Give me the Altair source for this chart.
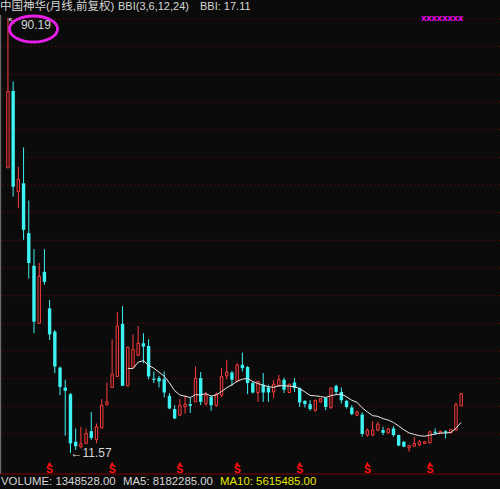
import altair as alt
import pandas as pd

# Monthly candles, China Shenhua (forward-adjusted), oldest first
opens = [63.1, 77.0, 58.8, 60.3, 51.3, 45.4, 35.0, 44.3, 37.7, 33.5,
         27.0, 23.4, 22.2, 13.6, 12.7, 13.3, 15.5, 14.0, 16.1, 20.3,
         23.4, 25.4, 34.9, 23.7, 27.1, 29.2, 31.4, 30.9, 25.0, 25.1,
         24.9, 21.9, 19.5, 18.4, 19.9, 20.4, 20.8, 25.1, 20.5, 21.7,
         20.2, 22.0, 25.5, 26.1, 24.5, 27.5, 27.1, 24.2, 22.5, 23.9,
         23.4, 22.6, 23.7, 24.8, 22.5, 24.3, 23.3, 21.0, 20.4, 19.3,
         20.8, 21.5, 19.8, 23.7, 22.6, 21.0, 19.8, 18.4, 18.5, 14.8,
         14.8, 15.7, 15.7, 15.2, 16.0, 14.8, 13.6, 12.5, 12.8, 13.0,
         13.3, 13.4, 15.4, 15.1, 15.5, 15.2, 15.7, 20.1]
highs = [90.19, 78.7, 63.3, 66.8, 57.2, 48.4, 45.9, 48.4, 39.2, 33.8,
         27.2, 24.8, 22.4, 16.0, 16.3, 16.0, 19.0, 16.9, 21.3, 24.3,
         32.1, 37.0, 38.1, 30.8, 33.0, 34.5, 33.2, 32.1, 26.3, 25.5,
         26.3, 22.4, 20.2, 21.3, 22.0, 21.5, 27.2, 26.2, 22.6, 22.0,
         22.5, 26.9, 28.4, 26.4, 27.8, 29.7, 27.3, 24.5, 24.6, 26.0,
         23.9, 24.8, 25.7, 25.2, 24.1, 25.1, 23.4, 21.1, 21.1, 21.2,
         21.5, 21.7, 23.4, 23.9, 23.4, 21.1, 20.2, 19.2, 18.9, 16.0,
         17.3, 17.2, 16.3, 16.1, 16.4, 14.9, 13.7, 12.9, 14.5, 13.9,
         13.7, 15.6, 16.0, 15.6, 15.7, 15.9, 20.7, 22.4]
lows = [63.1, 57.9, 55.8, 50.1, 43.1, 33.2, 35.0, 42.0, 32.0, 26.0,
        22.0, 14.7, 11.57, 12.1, 12.4, 13.2, 13.9, 13.3, 16.0, 20.2,
        23.3, 25.3, 23.7, 23.6, 27.0, 29.1, 27.8, 24.9, 24.2, 23.4,
        21.6, 19.5, 17.7, 18.3, 18.7, 18.8, 20.8, 20.2, 20.1, 19.2,
        19.9, 21.7, 24.9, 23.7, 24.4, 26.3, 22.2, 22.3, 20.8, 20.8,
        20.8, 21.5, 23.6, 22.4, 22.4, 22.6, 19.9, 19.8, 19.2, 19.0,
        20.7, 19.3, 19.5, 22.2, 20.5, 19.6, 18.4, 18.2, 14.5, 14.5,
        14.6, 15.5, 14.8, 15.1, 14.5, 12.8, 12.6, 11.8, 12.8, 12.8,
        13.3, 13.3, 14.8, 15.1, 14.2, 15.2, 15.7, 20.1]
closes = [76.9, 59.7, 61.0, 51.9, 45.9, 35.3, 43.5, 42.5, 33.0, 27.2,
          23.5, 22.8, 13.3, 12.8, 13.2, 15.1, 14.3, 16.3, 20.2, 20.8,
          25.8, 34.5, 23.7, 30.7, 30.3, 31.4, 30.8, 25.4, 24.8, 24.5,
          22.5, 19.6, 17.8, 20.2, 20.4, 20.1, 25.1, 20.8, 22.0, 20.2,
          22.2, 25.4, 26.2, 24.8, 27.5, 26.9, 24.2, 22.5, 24.5, 22.5,
          22.5, 24.0, 24.8, 23.0, 24.0, 23.3, 20.7, 20.4, 19.5, 21.1,
          21.4, 19.9, 23.3, 22.6, 21.1, 19.9, 18.6, 19.0, 15.0, 15.7,
          15.7, 16.8, 15.2, 15.9, 14.8, 12.9, 12.7, 12.9, 13.3, 13.6,
          13.6, 15.4, 15.2, 15.5, 15.2, 15.8, 20.3, 22.3]

# Horizontal guide levels and months carrying a dividend marker
grid_levels = [15, 20, 25, 30, 35, 40, 45, 50, 55, 60, 65, 70, 75, 80, 85, 90]
dividend_months = [8, 20, 33, 44, 56, 69, 81]

title_text = "中国神华(月线,前复权)"
bbi_params = "BBI(3,6,12,24)"
volume_text = "VOLUME: 1348528.00"
ma5_text = "MA5: 8182285.00"
ma10_text = "MA10: 5615485.00"

BG = "#0b0b0b"
UP = "#ff3c3c"
DOWN = "#3cf2f2"
GRID = "#7a0808"
TXT = "#d6d6d6"
LATIN = "Liberation Sans, Noto Sans CJK SC"

df = pd.DataFrame({"i": range(len(closes)), "open": opens, "high": highs,
                   "low": lows, "close": closes})
df["dir"] = ["up" if c >= o else "down" for o, c in zip(opens, closes)]
c = df["close"]
df["bbi"] = (c.rolling(3).mean() + c.rolling(6).mean()
             + c.rolling(12).mean() + c.rolling(24).mean()) / 4
bbi_last = df["bbi"].iloc[-1]

x_scale = alt.Scale(domain=[-0.564, 93.49], nice=False, zero=False)
y_scale = alt.Scale(domain=[5.06, 93.434], nice=False, zero=False)
X = alt.X("i:Q", scale=x_scale, axis=None)


def Y(field):
    return alt.Y(field, scale=y_scale, axis=None)


one = pd.DataFrame({"k": [0]})

grid = alt.Chart(pd.DataFrame({"level": grid_levels})).mark_rule(
    color=GRID, strokeDash=[1, 3], strokeWidth=1
).encode(y=Y("level:Q"))

wicks = alt.Chart(df).mark_rule(strokeWidth=1).encode(
    x=X, y=Y("low:Q"), y2="high:Q",
    color=alt.Color("dir:N", scale=alt.Scale(domain=["up", "down"], range=[UP, DOWN]),
                    legend=None),
)

down_body = alt.Chart(df).transform_filter("datum.dir == 'down'").mark_bar(
    size=3.4, color=DOWN
).encode(x=X, y=Y("open:Q"), y2="close:Q")

up_body = alt.Chart(df).transform_filter("datum.dir == 'up'").mark_bar(
    size=2.4, fill=BG, stroke=UP, strokeWidth=1
).encode(x=X, y=Y("open:Q"), y2="close:Q")

bbi_line = alt.Chart(df).transform_filter("isValid(datum.bbi)").mark_line(
    color="#e8e8e8", strokeWidth=1
).encode(x=X, y=Y("bbi:Q"))

# Extremes of the whole range
hi = df.loc[df["high"].idxmax()]
lo = df.loc[df["low"].idxmin()]
hi_df = pd.DataFrame({"i": [hi["i"]], "v": [hi["high"]], "label": [f"{hi['high']:.2f}"]})
lo_df = pd.DataFrame({"i": [lo["i"]], "v": [lo["low"]], "label": [f"←{lo['low']:.2f}"]})

hi_label = alt.Chart(hi_df).mark_text(
    align="left", baseline="middle", dx=13, dy=7.5, color=TXT, fontSize=12, font=LATIN
).encode(x=X, y=Y("v:Q"), text="label:N")
hi_arrow = alt.Chart(hi_df).mark_text(
    text="↖", align="center", baseline="middle", dx=4, dy=3, color=TXT, fontSize=10,
    font="DejaVu Sans"
).encode(x=X, y=Y("v:Q"))
lo_label = alt.Chart(lo_df).mark_text(
    align="left", baseline="middle", dx=0, dy=0, color=TXT, fontSize=12, font=LATIN
).encode(x=X, y=Y("v:Q"), text="label:N")

# Dividend markers along the bottom edge
div_df = pd.DataFrame({"i": dividend_months})
div_s = alt.Chart(div_df).mark_text(
    text="S", fontWeight="bold", fontSize=10.5, color="#ff1010", baseline="alphabetic",
    font="Liberation Sans"
).encode(x=X, y=alt.value(473))
div_hat = alt.Chart(div_df).mark_point(
    shape="triangle-up", size=16, filled=True, color="#ff1010", opacity=1
).encode(x=X, y=alt.value(463.5))

bottom_line = alt.Chart(one).mark_rule(color="#800000", strokeWidth=1.2).encode(
    x=alt.value(0), x2=alt.value(500), y=alt.value(474))
left_line = alt.Chart(one).mark_rule(color="#6a6a6a", strokeWidth=1.2).encode(
    x=alt.value(0.6), y=alt.value(15), y2=alt.value(474))


def label(text, x, y, color=TXT, size=11, **kw):
    return alt.Chart(one).mark_text(
        text=text, align="left", baseline="middle", color=color, fontSize=size,
        font=LATIN, **kw
    ).encode(x=alt.value(x), y=alt.value(y))


title = label(title_text, 0, 7, size=11.5)
params = label(bbi_params, 118, 7)
bbi_value = label(f"BBI: {bbi_last:.2f}", 200, 7)
vol = label(volume_text, 1, 482, size=11.4)
ma5 = label(ma5_text, 123, 482, size=11.4)
ma10 = label(ma10_text, 220, 482, color="#e6e600", size=11.4)
marks = label("xxxxxxxx", 421, 18, color="#ff00ff", size=9.5, fontWeight="bold")

ellipse = alt.Chart(one).mark_point(
    shape="M -1 0 A 1 0.54 0 1 0 1 0 A 1 0.54 0 1 0 -1 0 Z",
    size=2310, filled=False, color="#e61ee6", strokeWidth=2.8, opacity=1
).encode(x=alt.value(33.5), y=alt.value(29))

chart = alt.layer(
    grid, bottom_line, left_line, wicks, up_body, down_body, bbi_line,
    div_hat, div_s, hi_arrow, hi_label, lo_label,
    title, params, bbi_value, vol, ma5, ma10, marks, ellipse,
).properties(
    width=500, height=489, background=BG, padding=0,
    autosize=alt.AutoSizeParams(type="none"),
).configure_view(stroke=None)

chart.save("out.html", embed_options={"renderer": "svg", "actions": False})
